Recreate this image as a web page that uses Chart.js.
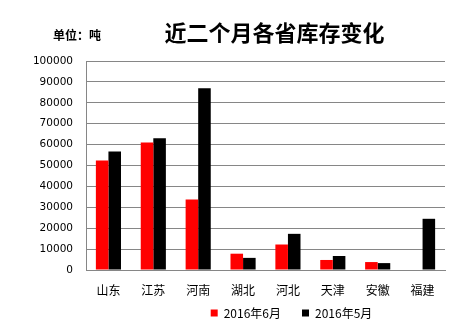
<!DOCTYPE html>
<html lang="zh">
<head>
    <meta charset="UTF-8">
    <title>近二个月各省库存变化</title>
    <script src="https://cdn.jsdelivr.net/npm/chart.js"></script>
    <style>
        * { margin: 0; padding: 0; box-sizing: border-box; }
        body { width: 474px; height: 334px; background: #fff; position: relative; overflow: hidden; }
        #wrap { position: absolute; left: 0; top: 0; width: 474px; height: 334px; }
        .unit { position: absolute; left: 53px; top: 26px; font: bold 12px "Noto Sans CJK SC", sans-serif; color: #000; }
        .title { position: absolute; left: 0; width: 549px; top: 15px; text-align: center; font: bold 22px "Noto Sans CJK SC", serif; color: #000; }
    </style>
</head>
<body>
    <div id="wrap"><canvas id="stockChart" width="474" height="334"></canvas></div>
    <div class="unit">单位：吨</div>
    <div class="title">近二个月各省库存变化</div>

    <script>
        const provinces = ['山东', '江苏', '河南', '湖北', '河北', '天津', '安徽', '福建'];
        const june2016 = [52400, 61000, 33700, 7800, 12200, 4800, 3800, null];
        const may2016 = [56700, 63000, 87000, 5800, 17300, 6700, 3300, 24500];
        const seriesNames = ['2016年6月', '2016年5月'];

        const gridColor = '#868686';

        // the legend sits right of centre and close under the axis labels in the original
        const legendShift = {
            id: 'legendShift',
            beforeDraw(chart) {
                const lg = chart.legend;
                const dy = (chart.chartArea.bottom + 16) - lg.top;
                lg.top += dy;
                lg.bottom += dy;
                lg.left += 69;
                lg.right += 69;
            }
        };

        const ctx = document.getElementById('stockChart').getContext('2d');
        new Chart(ctx, {
            type: 'bar',
            data: {
                labels: provinces,
                datasets: [
                    { label: seriesNames[0], data: june2016, backgroundColor: '#ff0000' },
                    { label: seriesNames[1], data: may2016, backgroundColor: '#000000' }
                ]
            },
            plugins: [legendShift],
            options: {
                responsive: false,
                animation: false,
                layout: { padding: { left: 0, right: 29, top: 61, bottom: -15 } },
                datasets: { bar: { categoryPercentage: 0.56, barPercentage: 1.0 } },
                plugins: {
                    title: { display: false },
                    tooltip: { enabled: false },
                    legend: {
                        position: 'bottom',
                        labels: {
                            boxWidth: 7,
                            boxHeight: 7,
                            padding: 21,
                            color: '#000',
                            font: { family: '"Noto Sans CJK SC", sans-serif', size: 12 }
                        }
                    }
                },
                scales: {
                    x: {
                        grid: { display: false, drawTicks: false },
                        border: { color: gridColor },
                        ticks: {
                            color: '#000',
                            padding: 13,
                            maxRotation: 0,
                            font: { family: '"Noto Sans CJK SC", sans-serif', size: 12 }
                        },
                        afterFit: scale => { scale.height = 36; }
                    },
                    y: {
                        min: 0,
                        max: 100000,
                        grid: { color: gridColor, drawTicks: false },
                        border: { color: gridColor },
                        ticks: {
                            stepSize: 10000,
                            color: '#000',
                            padding: 13,
                            font: { family: '"DejaVu Sans", sans-serif', size: 10.5 },
                            callback: v => String(v)
                        },
                        afterFit: scale => { scale.width = 86; }
                    }
                }
            }
        });
    </script>
</body>
</html>
